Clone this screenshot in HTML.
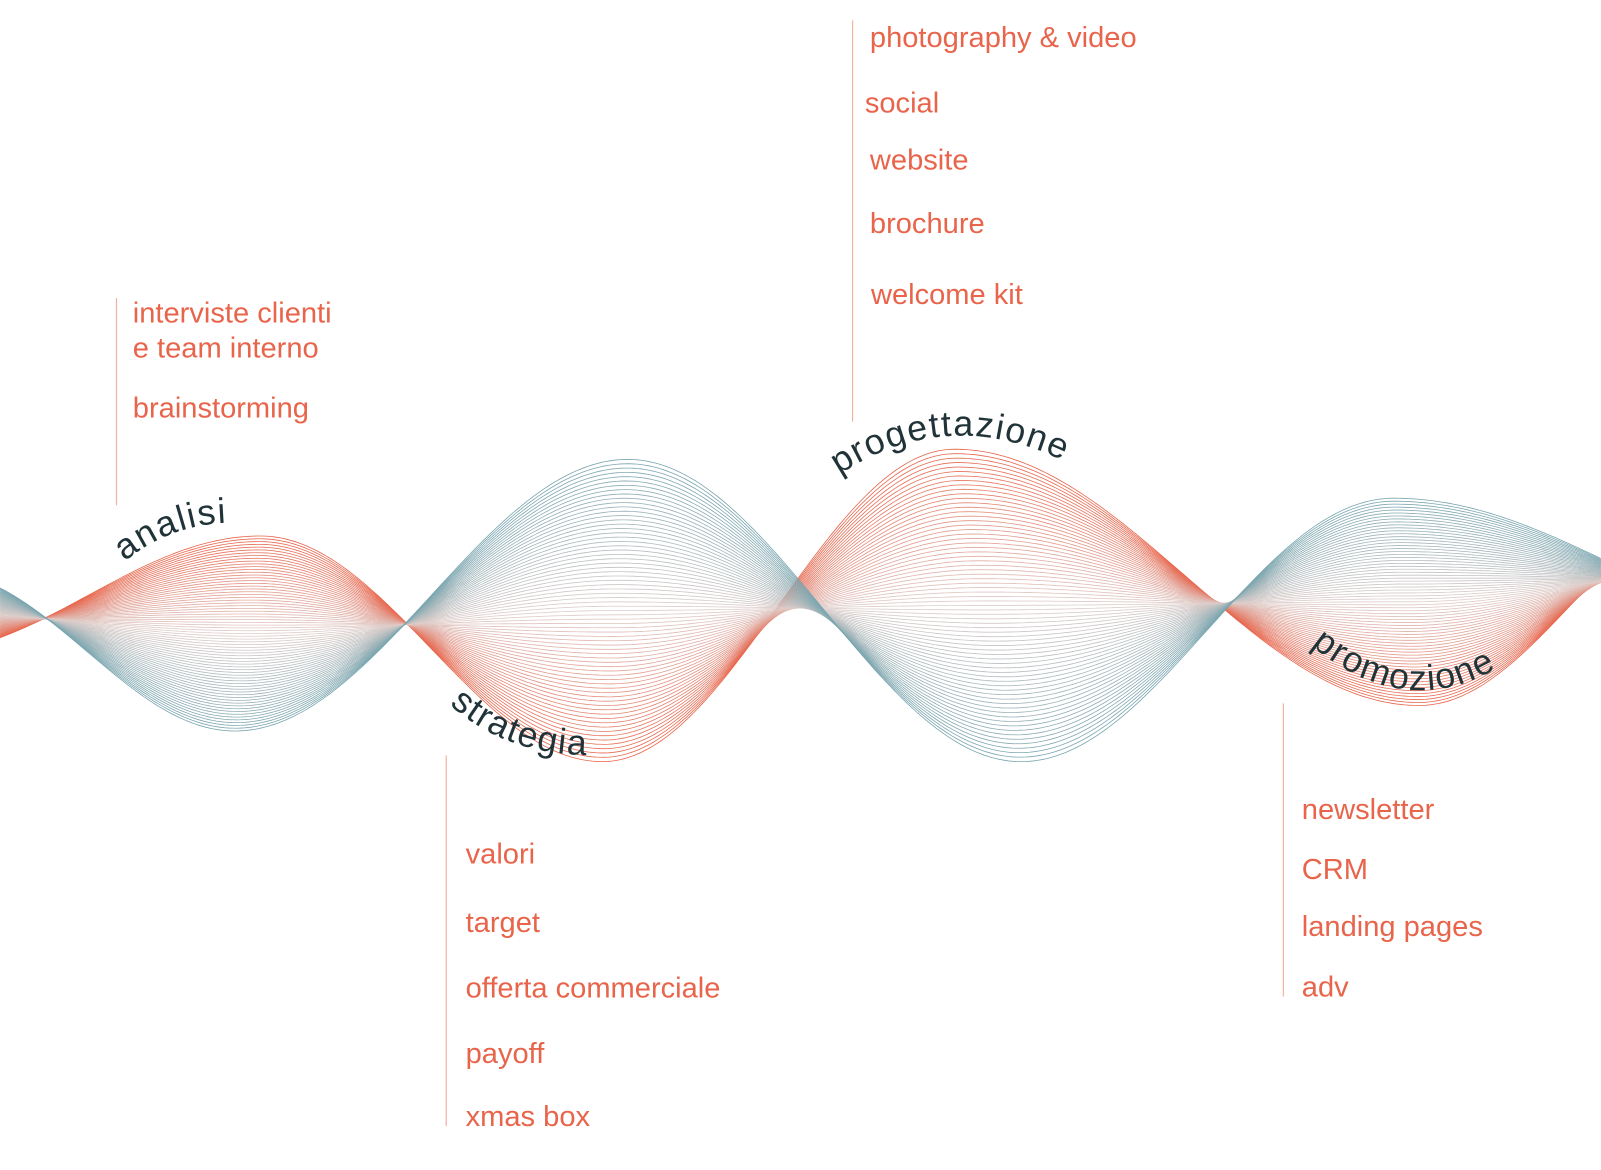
<!DOCTYPE html>
<html><head><meta charset="utf-8">
<style>
html,body{margin:0;padding:0;background:#fff;}
svg{display:block;}
.t{font-family:"Liberation Sans",sans-serif;font-size:28.5px;fill:#e8644a;}
.c{font-family:"Liberation Sans",sans-serif;font-size:35px;fill:#1f3338;letter-spacing:1.5px;}
</style></head><body>
<svg id="s" width="1601" height="1170" viewBox="0 0 1568 1146" xmlns="http://www.w3.org/2000/svg">
<g id="waves"></g>
<g stroke="#f2b3a3" stroke-width="1.2">
<line x1="114" y1="292" x2="114" y2="495"/>
<line x1="835" y1="20" x2="835" y2="413"/>
<line x1="437" y1="740" x2="437" y2="1103"/>
<line x1="1257" y1="689" x2="1257" y2="976"/>
</g>
<text class="t" x="130" y="316">interviste clienti</text>
<text class="t" x="130" y="350">e team interno</text>
<text class="t" x="130" y="409">brainstorming</text>
<text class="t" x="852" y="46">photography &amp; video</text>
<text class="t" x="847" y="110">social</text>
<text class="t" x="852" y="166">website</text>
<text class="t" x="852" y="228">brochure</text>
<text class="t" x="853" y="298">welcome kit</text>
<text class="t" x="456" y="846">valori</text>
<text class="t" x="456" y="913">target</text>
<text class="t" x="456" y="977">offerta commerciale</text>
<text class="t" x="456" y="1041">payoff</text>
<text class="t" x="456" y="1103">xmas box</text>
<text class="t" x="1275" y="802">newsletter</text>
<text class="t" x="1275" y="861">CRM</text>
<text class="t" x="1275" y="917">landing pages</text>
<text class="t" x="1275" y="976">adv</text>
<defs>
<path id="p1" d="M 122 550 Q 172 510 235 512"/>
<path id="p2" d="M 440 690 Q 505 748 605 738"/>
<path id="p3" d="M 822 465 Q 935 390 1062 462"/>
<path id="p4" d="M 1284 632 Q 1385 715 1485 642"/>
</defs>
<text class="c"><textPath href="#p1">analisi</textPath></text>
<text class="c"><textPath href="#p2">strategia</textPath></text>
<text class="c"><textPath href="#p3">progettazione</textPath></text>
<text class="c"><textPath href="#p4">promozione</textPath></text>
</svg>
<script>
(function(){
var R=[[-80,640],[255,525],[590,746],[935,440],[1390,691],[1700,480]];
var T=[[-60,560],[230,716],[615,450],[1000,746],[1365,488],[1800,620]];
function f(P,x){
  for(var i=0;i<P.length-1;i++){
    if(x<=P[i+1][0]){
      var a=P[i],b=P[i+1];var t=(x-a[0])/(b[0]-a[0]);
      var m=(1-Math.cos(Math.PI*t))/2;
      return a[1]+(b[1]-a[1])*m;
    }
  }
  return P[P.length-1][1];
}
var g=document.getElementById('waves');var N=70;var out='';
for(var k=0;k<=N;k++){
  var u=k/N;var d='';
  var P=R.map(function(p,i){return [p[0]+(T[i][0]-p[0])*u,p[1]+(T[i][1]-p[1])*u];});
  for(var x=0;x<=1568;x+=4){
    d+=(x?'L':'M')+x+' '+f(P,x).toFixed(1);
  }
  var c1=[232,100,74],c2=[120,165,175],mid=[222,205,202];
  var col;
  if(u<0.5){var v=u*2;col=c1.map(function(c,i){return Math.round(c+(mid[i]-c)*v);});}
  else{var v=(u-0.5)*2;col=mid.map(function(c,i){return Math.round(c+(c2[i]-c)*v);});}
  out+='<path d="'+d+'" fill="none" stroke="rgb('+col.join(',')+')" stroke-width="0.8"/>';
}
g.innerHTML=out;
})();
</script>
</body></html>
